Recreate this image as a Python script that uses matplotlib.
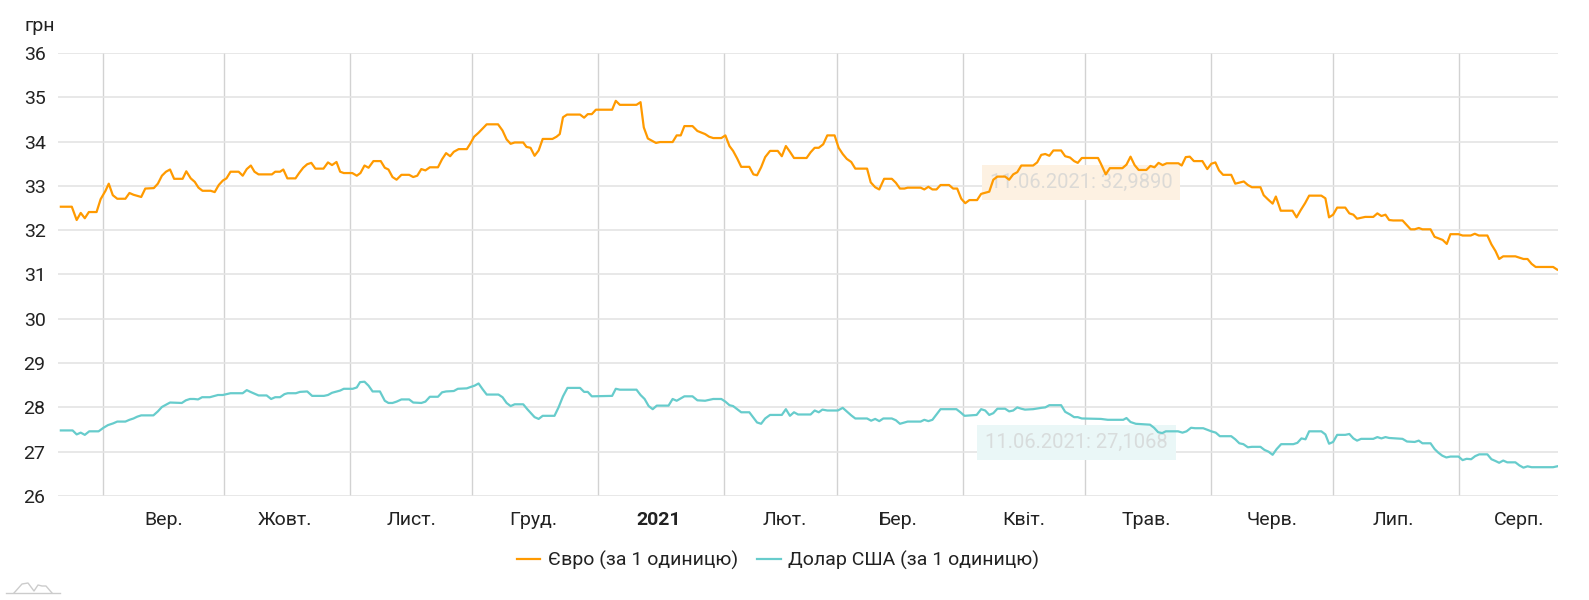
import numpy as np
import matplotlib
matplotlib.use('Agg')
import matplotlib.pyplot as plt
import matplotlib.dates as mdates
from matplotlib.lines import Line2D
from datetime import datetime

plt.rcParams['font.family'] = ['Roboto', 'DejaVu Sans']

# days counted from 01.09.2020, values in UAH
eur_days = [-10.3, -7.6, -6.4, -5.4, -4.4, -3.4, -1.5, -0.5, 0.7, 1.5, 2.5, 3.6, 5.6, 6.6, 7.6, 9.5,
            10.5, 12.6, 13.6, 14.6, 15.6, 16.6, 17.6, 19.7, 20.6, 21.7, 22.7, 23.6, 24.6, 26.6, 27.6,
            28.6, 29.6, 30.5, 31.5, 33.5, 34.5, 35.5, 36.5, 37.4, 38.4, 41.7, 42.5, 43.7, 44.5, 45.5,
            47.5, 48.4, 49.4, 50.4, 51.4, 52.4, 54.4, 55.5, 56.5, 57.6, 58.5, 59.4, 61.5, 62.6, 63.5,
            64.5, 65.5, 66.7, 68.5, 69.5, 70.4, 71.4, 72.4, 73.6, 75.5, 76.5, 77.5, 78.5, 79.5, 80.6,
            82.6, 83.6, 84.6, 85.6, 86.5, 87.7, 89.7, 90.6, 91.5, 92.6, 94.6, 97.4, 98.5, 99.5, 100.5,
            101.5, 103.6, 104.4, 105.4, 106.4, 107.4, 108.4, 110.8, 111.8, 112.6, 113.4, 114.4, 117.6,
            118.6, 119.5, 120.5, 121.5, 125.5, 126.4, 127.4, 131.5, 132.5, 133.3, 134.3, 136.3, 137.3,
            140.4, 141.4, 142.4, 143.3, 145.3, 146.5, 148.4, 149.4, 150.4, 152.4, 153.4, 154.4, 155.3,
            156.3, 157.3, 159.3, 160.3, 161.2, 162.2, 163.2, 164.4, 166.3, 167.3, 168.3, 169.3, 170.3,
            173.4, 174.4, 175.4, 176.4, 177.5, 178.5, 180.3, 181.3, 182.3, 183.3, 184.4, 185.4, 188.3,
            189.2, 190.3, 191.3, 192.5, 194.4, 195.4, 196.4, 197.5, 198.3, 201.5, 202.4, 203.4, 204.4,
            205.4, 206.4, 208.5, 209.5, 210.5, 211.5, 212.5, 213.5, 215.4, 216.4, 218.4, 219.4, 220.4,
            222.3, 223.3, 224.3, 225.3, 226.3, 229.2, 230.2, 231.2, 232.2, 233.2, 234.2, 236.1, 237.1,
            238.3, 239.3, 240.2, 241.2, 245.2, 245.9, 247.1, 248.1, 251.2, 252.2, 253.2, 254.2, 255.2,
            257.1, 258.1, 259.1, 260.1, 261.1, 262.1, 265.0, 265.8, 266.8, 267.8, 268.8, 270.9, 272.1,
            273.1, 274.1, 275.0, 276.0, 278.0, 279.0, 281.1, 282.1, 283.1, 285.2, 286.0, 287.0, 288.2,
            289.0, 290.2, 293.1, 294.1, 295.1, 296.2, 297.2, 300.2, 301.2, 302.1, 303.1, 304.1, 306.1,
            307.1, 308.1, 309.0, 311.0, 313.0, 314.0, 315.0, 316.0, 316.9, 317.9, 320.2, 321.2, 322.2,
            323.2, 324.2, 325.1, 327.1, 328.1, 330.1, 331.1, 332.0, 334.0, 335.0, 337.0, 338.0, 339.0,
            341.1, 342.1, 343.1, 344.0, 345.0, 348.0, 349.0, 350.0, 351.0, 352.0, 353.0, 357.3, 358.3]
eur = [32.53, 32.53, 32.23, 32.39, 32.27, 32.41, 32.41, 32.70, 32.89, 33.05, 32.79, 32.71, 32.71, 32.84, 32.80, 32.75,
       32.94, 32.95, 33.05, 33.23, 33.32, 33.37, 33.16, 33.16, 33.33, 33.17, 33.09, 32.96, 32.89, 32.89, 32.86,
       33.02, 33.12, 33.17, 33.32, 33.32, 33.23, 33.38, 33.46, 33.32, 33.26, 33.26, 33.32, 33.32, 33.37, 33.17,
       33.17, 33.29, 33.41, 33.49, 33.52, 33.39, 33.39, 33.53, 33.47, 33.54, 33.32, 33.29, 33.29, 33.23, 33.29,
       33.46, 33.41, 33.56, 33.56, 33.41, 33.37, 33.20, 33.14, 33.25, 33.25, 33.20, 33.23, 33.38, 33.35, 33.42,
       33.42, 33.60, 33.74, 33.67, 33.77, 33.83, 33.83, 33.96, 34.11, 34.20, 34.39, 34.39, 34.25, 34.05, 33.95,
       33.98, 33.98, 33.88, 33.86, 33.68, 33.80, 34.06, 34.06, 34.11, 34.17, 34.55, 34.61, 34.61,
       34.54, 34.62, 34.62, 34.72, 34.72, 34.92, 34.83, 34.83, 34.89, 34.32, 34.07, 33.97, 33.99,
       33.99, 34.14, 34.14, 34.35, 34.35, 34.24, 34.17, 34.11, 34.08, 34.08, 34.14, 33.90, 33.79,
       33.62, 33.43, 33.43, 33.26, 33.24, 33.42, 33.65, 33.79, 33.79, 33.67, 33.90, 33.77, 33.63,
       33.63, 33.76, 33.86, 33.86, 33.94, 34.14, 34.14, 33.86, 33.72, 33.61, 33.54, 33.39, 33.39,
       33.08, 32.97, 32.92, 33.16, 33.16, 33.07, 32.94, 32.94, 32.96, 32.96, 32.92, 32.98, 32.92,
       32.92, 33.02, 33.02, 32.94, 32.94, 32.71, 32.61, 32.68, 32.68, 32.82, 32.87, 33.14, 33.21,
       33.21, 33.14, 33.26, 33.31, 33.46, 33.46, 33.53, 33.70, 33.72, 33.68, 33.80, 33.80, 33.67,
       33.64, 33.56, 33.52, 33.63, 33.63, 33.50, 33.26, 33.40, 33.40, 33.48, 33.66, 33.47, 33.36,
       33.36, 33.45, 33.42, 33.52, 33.47, 33.51, 33.51, 33.46, 33.65, 33.66, 33.56, 33.56, 33.38,
       33.50, 33.53, 33.35, 33.25, 33.25, 33.05, 33.10, 33.02, 32.97, 32.97, 32.79, 32.70, 32.60,
       32.76, 32.44, 32.44, 32.29, 32.45, 32.61, 32.78, 32.78, 32.72, 32.29, 32.35, 32.51, 32.51,
       32.38, 32.35, 32.26, 32.30, 32.30, 32.38, 32.32, 32.35, 32.23, 32.22, 32.22, 32.12, 32.02,
       32.02, 32.05, 32.02, 32.02, 31.85, 31.78, 31.69, 31.91, 31.91, 31.88, 31.88, 31.92, 31.88,
       31.88, 31.68, 31.53, 31.35, 31.41, 31.41, 31.38, 31.35, 31.35, 31.24, 31.17, 31.17, 31.11]

usd_days = [-10.3, -7.4, -6.4, -5.4, -4.4, -3.3, -1.0, 0.2, 1.3, 2.6, 3.6, 5.6, 6.6, 7.6, 8.5, 9.5,
            12.5, 13.6, 14.6, 15.6, 16.6, 19.5, 20.5, 21.5, 22.5, 23.5, 24.5, 26.4, 28.4, 29.6, 31.5,
            34.5, 35.5, 36.4, 38.4, 40.4, 41.5, 42.5, 43.7, 44.8, 45.6, 47.6, 48.6, 50.4, 51.6, 54.5,
            55.5, 56.5, 58.5, 59.4, 61.6, 62.6, 63.4, 64.5, 65.5, 66.5, 68.3, 69.5, 70.4, 71.4, 72.4,
            73.6, 75.5, 76.5, 78.5, 79.5, 80.6, 82.6, 83.6, 84.6, 86.5, 87.5, 89.7, 90.6, 91.6, 92.6,
            93.6, 94.6, 97.5, 98.5, 99.5, 100.5, 101.5, 103.6, 104.6, 106.4, 107.4, 108.4, 111.3, 112.3,
            113.4, 114.5, 117.6, 118.6, 119.5, 120.5, 125.5, 126.4, 127.4, 131.5, 132.5, 133.5, 134.5,
            135.5, 136.5, 139.4, 140.4, 141.4, 143.3, 145.3, 146.5, 148.4, 150.4, 152.4, 153.4, 154.4,
            155.3, 157.3, 159.3, 160.3, 161.2, 162.2, 163.2, 164.4, 167.3, 168.3, 169.3, 170.3, 171.3,
            174.4, 175.4, 176.4, 177.3, 178.5, 181.1, 182.3, 183.4, 184.4, 185.4, 188.3, 189.3, 190.3,
            191.3, 192.3, 194.4, 195.4, 196.4, 198.3, 201.5, 202.4, 203.4, 204.4, 205.4, 206.4, 210.3,
            211.3, 212.3, 215.3, 216.4, 217.4, 218.4, 219.4, 220.4, 222.3, 223.3, 224.3, 225.3, 226.3,
            227.2, 229.2, 231.2, 232.2, 233.2, 236.1, 237.1, 238.3, 239.3, 240.2, 241.2, 245.9, 247.6,
            251.4, 252.2, 253.2, 254.5, 258.0, 259.0, 260.0, 261.0, 261.9, 264.9, 266.0, 267.0, 268.1,
            269.1, 271.1, 273.1, 274.2, 275.2, 278.0, 279.0, 280.0, 281.0, 282.1, 283.1, 285.2, 286.2,
            287.2, 288.2, 289.2, 290.3, 293.3, 294.3, 295.3, 296.3, 297.2, 300.2, 301.2, 302.1, 303.1,
            304.1, 306.1, 307.1, 308.1, 309.0, 310.0, 313.0, 314.0, 315.0, 316.0, 316.9, 320.2, 321.3,
            323.2, 324.2, 325.1, 327.1, 328.1, 329.0, 330.0, 331.0, 332.0, 334.0, 335.0, 336.0, 337.1,
            338.1, 339.1, 341.1, 342.1, 343.1, 344.0, 345.0, 346.0, 348.0, 349.0, 350.0, 351.0, 352.0,
            357.3, 358.3]
usd = [27.48, 27.48, 27.39, 27.43, 27.38, 27.46, 27.46, 27.54, 27.60, 27.64, 27.68, 27.68, 27.72, 27.75, 27.79, 27.82,
       27.82, 27.91, 28.01, 28.06, 28.11, 28.10, 28.16, 28.19, 28.19, 28.18, 28.23, 28.23, 28.28, 28.28, 28.32,
       28.32, 28.39, 28.35, 28.27, 28.27, 28.19, 28.23, 28.23, 28.30, 28.32, 28.32, 28.35, 28.36, 28.26, 28.26,
       28.28, 28.33, 28.38, 28.42, 28.42, 28.45, 28.57, 28.58, 28.49, 28.36, 28.36, 28.15, 28.10, 28.10, 28.13,
       28.18, 28.18, 28.11, 28.10, 28.13, 28.24, 28.24, 28.34, 28.36, 28.37, 28.42, 28.43, 28.46, 28.49, 28.54,
       28.41, 28.29, 28.29, 28.23, 28.10, 28.03, 28.07, 28.07, 27.96, 27.78, 27.74, 27.81, 27.81, 28.00,
       28.25, 28.44, 28.44, 28.35, 28.35, 28.25, 28.26, 28.42, 28.40, 28.40, 28.28, 28.19, 28.03,
       27.96, 28.04, 28.04, 28.19, 28.15, 28.25, 28.25, 28.16, 28.15, 28.19, 28.19, 28.13, 28.05,
       28.03, 27.89, 27.89, 27.77, 27.66, 27.63, 27.75, 27.83, 27.83, 27.96, 27.81, 27.89, 27.84,
       27.84, 27.93, 27.89, 27.95, 27.93, 27.93, 27.99, 27.90, 27.82, 27.75, 27.75, 27.70, 27.74,
       27.69, 27.75, 27.75, 27.71, 27.63, 27.68, 27.68, 27.72, 27.69, 27.72, 27.84, 27.96, 27.96,
       27.89, 27.81, 27.83, 27.96, 27.93, 27.83, 27.87, 27.97, 27.97, 27.91, 27.93, 28.00, 27.97,
       27.95, 27.96, 27.99, 28.00, 28.05, 28.05, 27.90, 27.84, 27.78, 27.78, 27.75, 27.74, 27.72,
       27.72, 27.76, 27.67, 27.63, 27.61, 27.54, 27.44, 27.42, 27.46, 27.46, 27.43, 27.46, 27.54,
       27.53, 27.53, 27.46, 27.43, 27.35, 27.35, 27.28, 27.19, 27.17, 27.10, 27.11, 27.11, 27.04,
       27.00, 26.93, 27.06, 27.17, 27.17, 27.20, 27.30, 27.28, 27.46, 27.46, 27.39, 27.18, 27.22,
       27.38, 27.38, 27.40, 27.30, 27.25, 27.29, 27.29, 27.33, 27.30, 27.33, 27.31, 27.29, 27.23,
       27.22, 27.25, 27.19, 27.19, 27.06, 26.98, 26.91, 26.87, 26.89, 26.89, 26.81, 26.84, 26.83,
       26.90, 26.94, 26.94, 26.83, 26.79, 26.75, 26.80, 26.76, 26.76, 26.69, 26.64, 26.67, 26.65,
       26.65, 26.67]

month_labels = ['Вер.', 'Жовт.', 'Лист.', 'Груд.', '2021', 'Лют.', 'Бер.', 'Квіт.',
                'Трав.', 'Черв.', 'Лип.', 'Серп.']
yticks = [26, 27, 28, 29, 30, 31, 32, 33, 34, 35, 36]

base = mdates.date2num(datetime(2020, 9, 1))
x_eur = base + np.array(eur_days)
x_usd = base + np.array(usd_days)

fig = plt.figure(figsize=(15.89, 6.0), dpi=100)
ax = fig.add_axes([58/1589, 1 - 496/600, 1500/1589, 443/600])

ax.plot(x_eur, eur, color='#ff9a00', lw=1.6, zorder=3, label='Євро (за 1 одиницю)')
ax.plot(x_usd, usd, color='#67cccc', lw=1.6, zorder=3, label='Долар США (за 1 одиницю)')

ax.set_xlim(base - 11, base + 358.5)
ax.set_ylim(26, 36)
ax.set_yticks(yticks)

# month boundaries as gridlines, labels in the middle of each month
starts = [datetime(2020 + (8 + i) // 12, (8 + i) % 12 + 1, 1) for i in range(12)]
ax.set_xticks([mdates.date2num(d) for d in starts])
ax.set_xticklabels([])
ax.set_xticks([mdates.date2num(d) + 15 for d in starts], minor=True)
ax.set_xticklabels(month_labels, minor=True)
for lbl in ax.get_xticklabels(minor=True):
    if lbl.get_text() == '2021':
        lbl.set_fontweight('bold')

ax.tick_params(axis='both', which='both', length=0, labelsize=14, colors='#222')
ax.tick_params(axis='x', which='minor', pad=11)
ax.tick_params(axis='y', pad=9)

ax.grid(axis='y', color='#e4e4e4', lw=1.2)
ax.grid(axis='x', which='major', color='#d2d2d2', lw=1)
ax.set_axisbelow(True)
for s in ax.spines.values():
    s.set_visible(False)

# faded tooltips (under the lines)
ax.text(0.682, 0.708, '11.06.2021: 32,9890', transform=ax.transAxes, ha='center', va='center',
        fontsize=14.5, color='#dcdad6', zorder=2,
        bbox=dict(boxstyle='square,pad=0.4', fc='#fdf1e2', ec='none'))
ax.text(0.679, 0.12, '11.06.2021: 27,1068', transform=ax.transAxes, ha='center', va='center',
        fontsize=14.5, color='#d8dcdc', zorder=2,
        bbox=dict(boxstyle='square,pad=0.4', fc='#eaf7f7', ec='none'))

fig.text(25/1589, 1 - 26/600, 'грн', fontsize=14, color='#222', va='center')

fig.legend(loc='center', bbox_to_anchor=(778/1589, 1 - 560/600), ncol=2, frameon=False,
           fontsize=14, handlelength=1.2, handletextpad=0.4, columnspacing=1.0,
           labelcolor='#222')

# small logo in the corner
fig.add_artist(Line2D([6/1589, 60/1589], [1 - 593/600, 1 - 593/600], color='#cccccc', lw=1))
fig.add_artist(Line2D(np.array([14, 22, 28, 34, 38, 42, 46, 52]) / 1589,
                      1 - np.array([593, 584, 583, 591, 585, 586, 586, 593]) / 600,
                      color='#cccccc', lw=1))

fig.savefig('out.png', dpi=100)
